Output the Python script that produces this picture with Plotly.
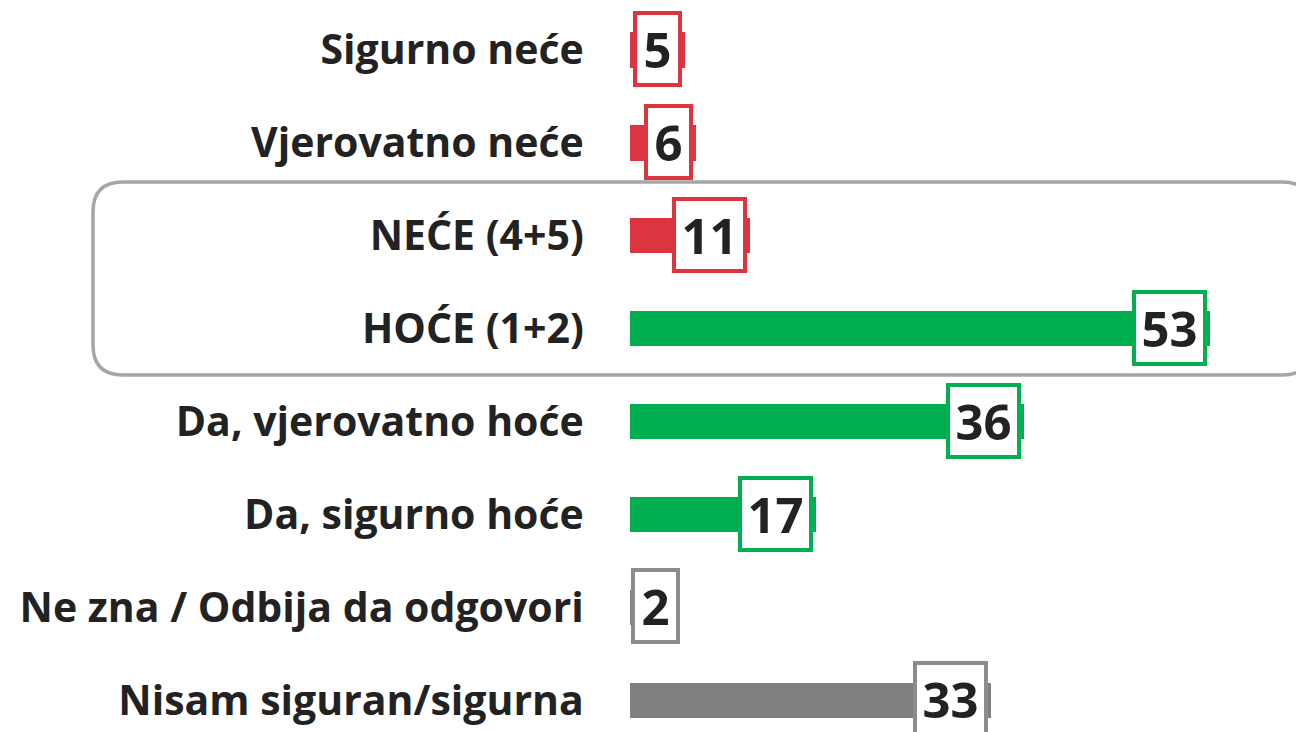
import plotly.graph_objects as go

categories = ["Sigurno neće", "Vjerovatno neće", "NEĆE (4+5)", "HOĆE (1+2)",
              "Da, vjerovatno hoće", "Da, sigurno hoće",
              "Ne zna / Odbija da odgovori", "Nisam siguran/sigurna"]
values = [5, 6, 11, 53, 36, 17, 2, 33]
groups = ["red", "red", "red", "green", "green", "green", "gray", "gray"]

BAR = {"red": "#DC3540", "green": "#00B050", "gray": "#808080"}
BORDER = {"red": "#DC3540", "green": "#00B050", "gray": "#8A8D90"}

W, H = 1304, 732
OFF = 8                 # page body margin
x0px = 630 - OFF
scale = 10.94           # px per unit
xmax = (W - x0px) / scale
row0, step = 50 - OFF, 92.9
ytop = -row0 / step
ybot = (H - row0) / step

idx = list(range(len(categories)))

fig = go.Figure()
fig.add_trace(go.Bar(
    x=values, y=idx, orientation="h",
    marker=dict(color=[BAR[g] for g in groups], line=dict(width=0)),
    width=0.38, hoverinfo="skip", showlegend=False,
))

min_right = 4.8
for i, (v, g) in enumerate(zip(values, groups)):
    txt = str(v)
    w = 42 if len(txt) == 1 else 68
    fig.add_annotation(
        x=max(v, min_right), y=i, xref="x", yref="y",
        xanchor="right", yanchor="middle", xshift=-3, yshift=1,
        text=f"<b>{txt}</b>", showarrow=False,
        font=dict(family="Open Sans", size=49, color="#222222"),
        bgcolor="white", bordercolor=BORDER[g], borderwidth=4, borderpad=0,
        width=w - 1, height=68, align="center", valign="middle",
    )

# rounded grouping frame
def px(x, y):
    return f"{x / W:.5f},{1 - y / H:.5f}"

L, T, R, B, r = 93 - OFF, 182 - OFF, 1312 - OFF, 375 - OFF, 30
path = (f"M {px(L + r, T)} L {px(R - r, T)} Q {px(R, T)} {px(R, T + r)} "
        f"L {px(R, B - r)} Q {px(R, B)} {px(R - r, B)} "
        f"L {px(L + r, B)} Q {px(L, B)} {px(L, B - r)} "
        f"L {px(L, T + r)} Q {px(L, T)} {px(L + r, T)} Z")
fig.add_shape(type="path", path=path, xref="paper", yref="paper",
              line=dict(color="#A6A6A6", width=3.5), layer="below")

fig.update_layout(
    width=W, height=H,
    margin=dict(l=0, r=0, t=0, b=0),
    paper_bgcolor="white", plot_bgcolor="rgba(0,0,0,0)",
    bargap=0,
    xaxis=dict(domain=[x0px / W, 1], range=[0, xmax], visible=False,
               fixedrange=True),
    yaxis=dict(range=[ybot, ytop], tickvals=idx,
               ticktext=[f"<b>{c}</b>" for c in categories],
               tickfont=dict(family="Open Sans", size=41, color="#222222"),
               ticks="outside", ticklen=37, tickcolor="rgba(0,0,0,0)",
               showgrid=False, zeroline=False, showline=False,
               automargin=False, fixedrange=True),
)

fig.write_html("out.html")
